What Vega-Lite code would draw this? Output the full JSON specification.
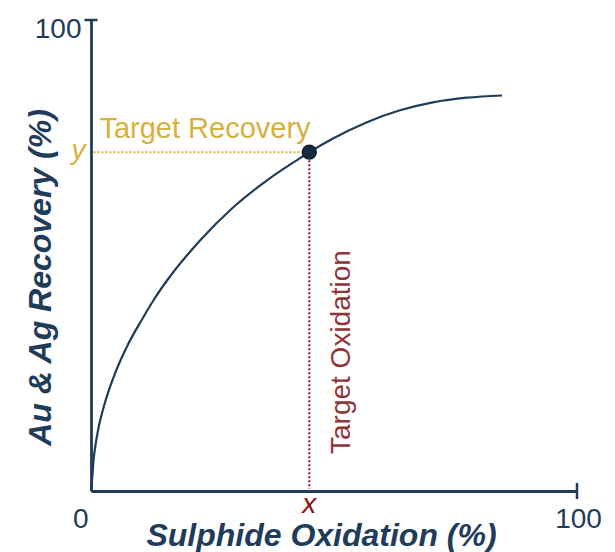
{
  "$schema": "https://vega.github.io/schema/vega-lite/v6.json",
  "width": 486,
  "height": 471,
  "autosize": {"type": "none"},
  "padding": {"left": 91, "top": 20, "right": 38, "bottom": 61},
  "background": "white",
  "config": {"view": {"stroke": null}, "font": "Liberation Sans"},
  "datasets": {
    "curve": [
      {"x": 0, "y": 0},
      {"x": 0.31, "y": 3.5},
      {"x": 0.51, "y": 6.48},
      {"x": 0.82, "y": 9.02},
      {"x": 1.44, "y": 12.85},
      {"x": 2.88, "y": 18.79},
      {"x": 4.94, "y": 24.95},
      {"x": 7.61, "y": 31.1},
      {"x": 10.49, "y": 36.41},
      {"x": 12.96, "y": 40.66},
      {"x": 15.64, "y": 44.69},
      {"x": 22.43, "y": 53.18},
      {"x": 29.22, "y": 60.19},
      {"x": 36.21, "y": 65.97},
      {"x": 43.62, "y": 71.08},
      {"x": 44.92, "y": 71.93},
      {"x": 49.79, "y": 74.84},
      {"x": 56.79, "y": 78.3},
      {"x": 63.58, "y": 80.83},
      {"x": 70.37, "y": 82.51},
      {"x": 77.37, "y": 83.5},
      {"x": 84.57, "y": 83.97}
    ],
    "target": [{"x": 44.92, "y": 71.93, "x0": 0.5, "y0": 0.5}],
    "xend": [{"x": 100, "y": 0}],
    "yend": [{"x": 0, "y": 100}],
    "oxlabel": [{"x": 53.3, "y": 29.5}]
  },
  "layer": [
    {
      "data": {"name": "curve"},
      "mark": {"type": "line", "color": "#1f3c5a", "strokeWidth": 2.2, "interpolate": "monotone", "clip": false},
      "encoding": {
        "x": {
          "field": "x", "type": "quantitative",
          "scale": {"domain": [0, 100], "nice": false, "zero": true},
          "axis": {
            "values": [0, 100], "ticks": false, "grid": false,
            "domainColor": "#1f3c5a", "domainWidth": 2.8,
            "labelFontSize": 28, "labelColor": "#1f3c5a", "labelFont": "Liberation Sans",
            "labelPadding": 36, "labelBaseline": "alphabetic",
            "labelAlign": {"condition": {"test": "datum.value == 0", "value": "right"}, "value": "center"},
            "labelOffset": {"condition": {"test": "datum.value == 0", "value": -3}, "value": 1},
            "labelFlush": false, "labelOverlap": false,
            "title": "Sulphide Oxidation (%)", "titleFontSize": 32, "titleFontWeight": "bold",
            "titleFontStyle": "italic", "titleColor": "#1f3c5a", "titleFont": "Liberation Sans",
            "titleX": 230, "titleY": 54, "titleBaseline": "alphabetic", "titleAlign": "center"
          }
        },
        "y": {
          "field": "y", "type": "quantitative",
          "scale": {"domain": [0, 100], "nice": false, "zero": true},
          "axis": {
            "values": [100], "ticks": false, "grid": false,
            "domainColor": "#1f3c5a", "domainWidth": 2.8,
            "labelFontSize": 28, "labelColor": "#1f3c5a", "labelFont": "Liberation Sans",
            "labelPadding": 10, "labelBaseline": "alphabetic", "labelOffset": 17,
            "labelFlush": false, "labelOverlap": false,
            "title": "Au & Ag Recovery (%)", "titleFontSize": 32, "titleFontWeight": "bold",
            "titleFontStyle": "italic", "titleColor": "#1f3c5a", "titleFont": "Liberation Sans",
            "titleAngle": -90, "titleX": -41, "titleY": 257, "titleBaseline": "alphabetic", "titleAlign": "center"
          }
        }
      }
    },
    {
      "data": {"name": "target"},
      "mark": {"type": "rule", "color": "#d6b13e", "strokeWidth": 2, "strokeDash": [2, 2]},
      "encoding": {
        "x": {"field": "x0", "type": "quantitative"},
        "x2": {"field": "x"},
        "y": {"field": "y", "type": "quantitative"}
      }
    },
    {
      "data": {"name": "target"},
      "mark": {"type": "rule", "color": "#8b1c1c", "strokeWidth": 2, "strokeDash": [2, 2]},
      "encoding": {
        "x": {"field": "x", "type": "quantitative"},
        "y": {"field": "y", "type": "quantitative"},
        "y2": {"field": "y0"}
      }
    },
    {
      "data": {"name": "target"},
      "mark": {"type": "point", "filled": true, "size": 190, "color": "#172b40", "stroke": "#0f1e2e", "strokeWidth": 1.5, "opacity": 1},
      "encoding": {
        "x": {"field": "x", "type": "quantitative"},
        "y": {"field": "y", "type": "quantitative"}
      }
    },
    {
      "data": {"name": "target"},
      "mark": {"type": "text", "text": "Target Recovery", "align": "left", "baseline": "alphabetic", "fontSize": 29, "color": "#d6b13e", "dx": 6, "dy": -14, "font": "Liberation Sans"},
      "encoding": {
        "x": {"field": "x0", "type": "quantitative"},
        "y": {"field": "y", "type": "quantitative"}
      }
    },
    {
      "data": {"name": "target"},
      "mark": {"type": "text", "text": "y", "align": "right", "baseline": "alphabetic", "fontSize": 28, "fontStyle": "italic", "color": "#d6b13e", "dx": -8, "dy": 7, "font": "Liberation Sans"},
      "encoding": {
        "x": {"field": "x0", "type": "quantitative"},
        "y": {"field": "y", "type": "quantitative"}
      }
    },
    {
      "data": {"name": "target"},
      "mark": {"type": "text", "text": "x", "align": "center", "baseline": "alphabetic", "fontSize": 28, "fontStyle": "italic", "color": "#8c1010", "dy": 24, "font": "Liberation Sans"},
      "encoding": {
        "x": {"field": "x", "type": "quantitative"},
        "y": {"field": "y0", "type": "quantitative"}
      }
    },
    {
      "data": {"name": "oxlabel"},
      "mark": {"type": "text", "text": "Target Oxidation", "align": "center", "baseline": "alphabetic", "angle": 270, "fontSize": 28, "color": "#8f3535", "font": "Liberation Sans"},
      "encoding": {
        "x": {"field": "x", "type": "quantitative"},
        "y": {"field": "y", "type": "quantitative"}
      }
    },
    {
      "data": {"name": "xend"},
      "mark": {"type": "tick", "orient": "vertical", "size": 16, "thickness": 2.5, "color": "#1f3c5a", "opacity": 1},
      "encoding": {
        "x": {"field": "x", "type": "quantitative"},
        "y": {"field": "y", "type": "quantitative"}
      }
    },
    {
      "data": {"name": "yend"},
      "mark": {"type": "tick", "orient": "horizontal", "size": 13, "thickness": 2.5, "color": "#1f3c5a", "opacity": 1},
      "encoding": {
        "x": {"field": "x", "type": "quantitative"},
        "y": {"field": "y", "type": "quantitative"}
      }
    }
  ]
}
